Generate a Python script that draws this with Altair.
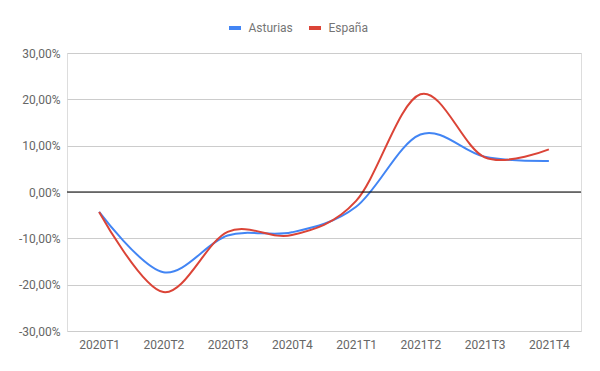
import altair as alt
import pandas as pd

quarters = ["2020T1", "2020T2", "2020T3", "2020T4", "2021T1", "2021T2", "2021T3", "2021T4"]
asturias = [-4.3, -17.3, -9.4, -8.7, -3.2, 12.4, 7.6, 6.7]
espana = [-4.3, -21.6, -8.6, -9.3, -1.9, 21.1, 7.5, 9.2]
series_names = ["Asturias", "España"]
colors = ["#4285F4", "#DB4437"]

rows = []
for q, a, e in zip(quarters, asturias, espana):
    rows.append({"quarter": q, "series": series_names[0], "value": a})
    rows.append({"quarter": q, "series": series_names[1], "value": e})
df = pd.DataFrame(rows)
zero = pd.DataFrame({"value": [0]})

font = "Roboto"
label_expr = "(datum.value < 0 ? '-' : '') + replace(format(abs(datum.value), '.2f'), '.', ',') + '%'"

lines = alt.Chart(df).mark_line(interpolate="cardinal", strokeWidth=2).encode(
    x=alt.X("quarter:N", sort=quarters, title=None,
            scale=alt.Scale(paddingInner=0, paddingOuter=0.5),
            axis=alt.Axis(labelAngle=0, ticks=False, domain=False, grid=False,
                          labelPadding=8, labelFontSize=12, labelColor="#666666", labelFont=font)),
    y=alt.Y("value:Q", title=None,
            scale=alt.Scale(domain=[-30, 30], nice=False),
            axis=alt.Axis(values=[-30, -20, -10, 0, 10, 20, 30], labelExpr=label_expr,
                          ticks=False, domain=False, gridColor="#cccccc",
                          labelPadding=7, labelFontSize=12, labelColor="#666666", labelFont=font)),
    color=alt.Color("series:N", sort=series_names,
                    scale=alt.Scale(domain=series_names, range=colors),
                    legend=alt.Legend(orient="none", legendX=160, legendY=-33, direction="horizontal",
                                      title=None, symbolType="stroke",
                                      symbolSize=144, symbolStrokeWidth=4, labelFontSize=12,
                                      labelColor="#757575", labelFont=font, columnPadding=8,
                                      labelOffset=5.5)),
)

rule = alt.Chart(zero).mark_rule(color="#000000", strokeWidth=1).encode(y="value:Q")

chart = alt.layer(lines, rule).properties(
    width=514, height=278,
    autosize=alt.AutoSizeParams(type="none"),
    padding={"left": 59, "top": 45, "right": 11, "bottom": 40},
).configure_view(stroke=None).configure(background="white")

chart.save("out.html", embed_options={"renderer": "svg", "actions": False})
